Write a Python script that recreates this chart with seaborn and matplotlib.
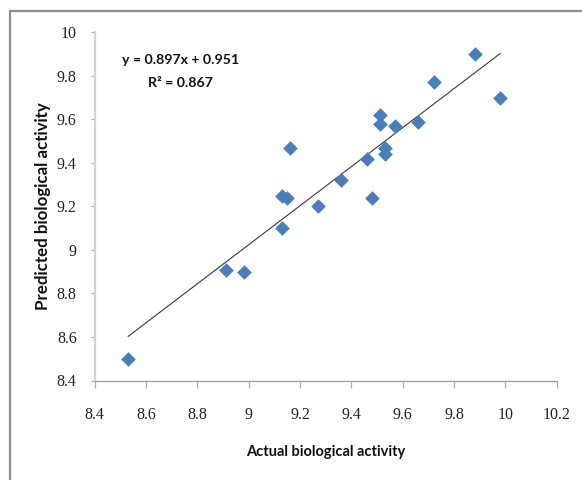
import matplotlib
matplotlib.use("Agg")
import matplotlib.pyplot as plt
import seaborn as sns
import numpy as np
import pandas as pd
from matplotlib.patches import Rectangle

# Actual vs predicted biological activity
actual = [8.53, 8.91, 8.98, 9.13, 9.13, 9.15, 9.16, 9.27, 9.36, 9.46,
          9.48, 9.51, 9.51, 9.53, 9.53, 9.57, 9.66, 9.72, 9.88, 9.98]
predicted = [8.50, 8.91, 8.90, 9.10, 9.25, 9.24, 9.47, 9.20, 9.32, 9.42,
             9.24, 9.62, 9.58, 9.47, 9.44, 9.57, 9.59, 9.77, 9.90, 9.70]

# Linear trend line coefficients
slope = 0.897
intercept = 0.951
r_squared = 0.867

x_ticks = [8.4, 8.6, 8.8, 9.0, 9.2, 9.4, 9.6, 9.8, 10.0, 10.2]
x_tick_labels = ["8.4", "8.6", "8.8", "9", "9.2", "9.4", "9.6", "9.8", "10", "10.2"]
y_ticks = [8.4, 8.6, 8.8, 9.0, 9.2, 9.4, 9.6, 9.8, 10.0]
y_tick_labels = ["8.4", "8.6", "8.8", "9", "9.2", "9.4", "9.6", "9.8", "10"]

df = pd.DataFrame({"actual": actual, "predicted": predicted})

sns.set_style("white")
W, H = 582, 480
fig = plt.figure(figsize=(W / 100, H / 100), dpi=100)
fig.patch.set_facecolor("white")

# Chart-area frame
fig.patches.append(Rectangle((10 / W, -0.05), 1.2, (H - 11) / H + 0.05,
                             transform=fig.transFigure, fill=False,
                             edgecolor="#8e8e8e", linewidth=1.6))

ax = fig.add_axes([94.7 / W, (H - 380.5) / H, (556.8 - 94.7) / W, (380.5 - 32.3) / H])

sns.scatterplot(data=df, x="actual", y="predicted", ax=ax, marker="D",
                s=48, color="#4a7ebb", edgecolor="#4a7ebb", linewidth=0.5,
                zorder=3, legend=False)

xs = np.array([min(actual), max(actual)])
ax.plot(xs, slope * xs + intercept, color="#3a3a3a", linewidth=0.8, zorder=2)

ax.set_xlim(8.4, 10.2)
ax.set_ylim(8.4, 10.0)
ax.set_xticks(x_ticks)
ax.set_xticklabels(x_tick_labels, fontfamily="Liberation Serif", fontsize=11.5, color="#222222")
ax.set_yticks(y_ticks)
ax.set_yticklabels(y_tick_labels, fontfamily="Liberation Serif", fontsize=11.5, color="#222222")

for side in ("top", "right"):
    ax.spines[side].set_visible(False)
ax.spines["left"].set_color("#d4d4d4")
ax.spines["left"].set_linewidth(1.6)
ax.spines["bottom"].set_color("#9a9a9a")
ax.spines["bottom"].set_linewidth(0.9)

ax.tick_params(axis="x", direction="out", length=5, width=0.9, color="#b0b0b0", pad=14)
ax.tick_params(axis="y", direction="out", length=3, width=0.9, color="#b0b0b0", pad=10)
ax.tick_params(bottom=True, left=True)

ax.set_xlabel("Actual biological activity", fontfamily="Lato", fontweight="bold",
              fontsize=10.5, labelpad=16, color="#111111")
ax.set_ylabel("Predicted biological activity", fontfamily="Lato", fontweight="bold",
              fontsize=12.2, labelpad=4, color="#111111")

ax.text(122 / W, (H - 60) / H, f"y = {slope}x + {intercept}", transform=fig.transFigure,
        fontfamily="Lato", fontweight="bold", fontsize=10.2, va="center", ha="left",
        color="#111111")
ax.text(148 / W, (H - 83) / H, f"R² = {r_squared}", transform=fig.transFigure,
        fontfamily="Lato", fontweight="bold", fontsize=10.2, va="center", ha="left",
        color="#111111")

fig.savefig("out.png", dpi=100)
